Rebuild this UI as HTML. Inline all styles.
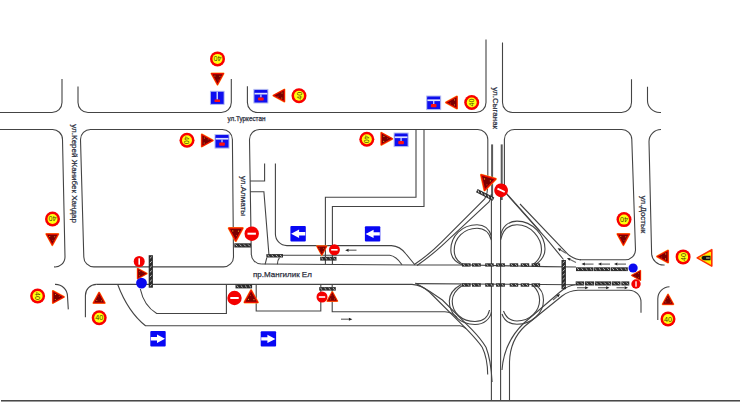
<!DOCTYPE html>
<html><head><meta charset="utf-8">
<style>
html,body{margin:0;padding:0;background:#fff;}
svg{display:block;}
text{font-family:"Liberation Sans",sans-serif;}
</style></head>
<body>
<svg width="740" height="402" viewBox="0 0 740 402">
<defs>
  <pattern id="hp" width="4.3" height="4.3" patternUnits="userSpaceOnUse">
    <rect width="4.3" height="4.3" fill="#333"/>
    <path d="M1.3,1.2 L3.0,2.9" stroke="#f0f0f0" stroke-width="0.75"/>
  </pattern>
  <pattern id="hv" width="4.3" height="4.4" patternUnits="userSpaceOnUse">
    <rect width="4.3" height="4.4" fill="#2a2a2a"/>
    <path d="M1.3,3.0 L3.0,1.4" stroke="#f0f0f0" stroke-width="0.75"/>
  </pattern>
  <g id="s40">
    <circle r="7.5" fill="#f80000"/>
    <circle r="5.0" fill="#ffff10"/>
    <text x="0" y="2.6" font-size="7.2" text-anchor="middle" fill="#4a4200">40</text>
  </g>
  <g id="tri">
    <path d="M-5.2,-6 L5.8,0 L-5.2,6 Z" fill="#7a0000" stroke="#ff9a20" stroke-width="2.0" stroke-linejoin="round"/>
    <path d="M-5.2,-6 L5.8,0 L-5.2,6 Z" fill="#7a0000" stroke="#f41000" stroke-width="1.1" stroke-linejoin="round"/>
    <circle cx="-2.6" cy="-2.4" r="0.55" fill="#e8a020"/>
    <circle cx="-2.8" cy="2.6" r="0.55" fill="#e8a020"/>
    <circle cx="1.2" cy="-0.6" r="0.5" fill="#d04010"/>
  </g>
  <g id="ne">
    <circle r="7.2" fill="#f40000"/>
    <rect x="-4.2" y="-1" width="8.4" height="2" fill="#fff"/>
  </g>
  <g id="ne5">
    <circle r="5.5" fill="#f40000"/>
    <rect x="-3.2" y="-0.8" width="6.4" height="1.6" fill="#fff"/>
  </g>
  <g id="dead">
    <rect x="-7" y="-6.8" width="14" height="13.6" fill="#1010f0" stroke="#b4bcf0" stroke-width="1"/>
    <rect x="-6.3" y="-4.9" width="12.6" height="1.5" fill="#0a0ae8"/>
    <rect x="-6.3" y="-3.4" width="12.6" height="1.7" fill="#dce0ff"/>
    <rect x="-0.7" y="-1.8" width="1.4" height="3" fill="#b8c0ff"/>
    <rect x="-2.8" y="1.2" width="5.6" height="3.2" rx="0.8" fill="#ff1010"/>
  </g>
  <g id="dead2">
    <rect x="-6.85" y="-6.55" width="13.7" height="13.1" fill="#0e0ef0" stroke="#b4bcf0" stroke-width="0.9"/>
    <rect x="-0.75" y="-6.2" width="1.5" height="8" fill="#c8d0ff"/>
    <rect x="-2.75" y="1.6" width="5.5" height="2.6" rx="0.6" fill="#ff1010"/>
  </g>
  <g id="barrow">
    <rect x="-7.7" y="-7.7" width="15.4" height="15.4" rx="1" fill="#0808f4"/>
    <path d="M-7,0 L1,-4.2 L1,-1.7 L7.2,-1.7 L7.2,1.7 L1,1.7 L1,4.2 Z" fill="#fff"/>
  </g>
</defs>

<g fill="none" stroke="#444" stroke-width="1.1">
  <!-- bottom border -->
  <rect x="1" y="400" width="739" height="1" fill="#484848" stroke="none"/><rect x="1" y="401" width="739" height="1" fill="#9a9a9a" stroke="none"/>

  <!-- top road upper line -->
  <path d="M0,112.5 H52 A10,10 0 0 0 62,102.5 V79"/>
  <path d="M78,86.5 V102.5 A10,10 0 0 0 88,112.5 H221.3 A10,10 0 0 0 231.3,102.5 V79"/>
  <path d="M247.4,86.3 V102.5 A10,10 0 0 0 257.4,112.5 H476 A10,10 0 0 0 486,102.5 V39.5"/>
  <path d="M502.5,42.4 V102.5 A10,10 0 0 0 512.5,112.5 H621.5 A10,10 0 0 0 631.5,102.5 V79.3"/>
  <path d="M647.5,86.7 V100.5 A12,12 0 0 0 659.5,112.5 H661"/>

  <!-- top road lower line, Kerei left -->
  <path d="M0,129.5 H52 A10,10 0 0 1 62.5,139.5 L65,257 A10,10 0 0 1 54,266.9"/>
  <!-- block 1 -->
  <path d="M90.5,129.5 H222.4 A10,10 0 0 1 232.4,139.5 L233.5,256.9 A10,10 0 0 1 223.5,266.9 H93.8 A10,10 0 0 1 83.8,256.9 L80.5,139.5 A10,10 0 0 1 90.5,129.5 Z"/>
  <!-- block 2 outline (Almaty right, top, Syganak left) -->
  <path d="M251.3,254 L249.5,139.5 A10,10 0 0 1 259.5,129.5 H477.5 A10,10 0 0 1 487.8,139.5 V186"/>
  <path d="M251.3,254 A10,10 0 0 0 261.3,264"/>
  <!-- Syganak right / Dostyk left top -->
  <path d="M504.4,172 V139.5 A10,10 0 0 1 514.4,129.5 H621.5 A10,10 0 0 1 631.8,139.5 L635.5,250 A10,10 0 0 1 625.5,259.8 H579.8"/>
  <!-- Dostyk right lower -->
  <path d="M661,129.5 A12,12 0 0 0 649,141.5 L651.6,253 A12,12 0 0 0 664.6,265"/>

  <!-- main road upper line -->
  <path d="M261.3,264 L414.7,265 L470,265 L545,266.6 L576,267"/>
  <!-- main road lower line -->
    <path d="M96.3,284.4 H395 M415.4,283.6 L576,284.8"/>

  <!-- Kerei bottom pieces -->
  <path d="M55,284.4 A12,12 0 0 1 67.5,296.4 L68.3,309.4"/>
  <path d="M96.3,284.4 A11,11 0 0 0 85.4,295.4 V317.2"/>

  <!-- left lower ramps -->
  <path d="M117.6,284.3 Q128,312 145.5,325.8 H459.8 Q463,326 466,328.6"/>
  <path d="M140.3,289 Q144,306 156.7,313.5 H226.4 V284.4"/>
  <path d="M256.2,284.4 V311 H320.8 V284.4"/>
  <path d="M332.2,284 V311.8 H444.9 Q452,312 457.3,317.6"/>

  <!-- Almaty inner structure -->
  <path d="M250,181 H264.6 V163.5"/>
  <path d="M250,191.8 H263.9 L268.9,254.2 M266.8,257.6 L265.1,264.3"/>
  <path d="M275.4,163.5 V234 A11.5,11.5 0 0 0 287,245.6 H391.5 Q400,246 406,254 L414.6,264.5"/>
  <path d="M266.7,255.3 H389.7 Q396,256 402,264.7"/>
  <path d="M279.5,257.6 Q277.5,260 277.4,264.2"/>
  <path d="M325.4,264 V197.3 H416 V129.5"/>
  <path d="M332.4,264 V206.5 H424 V129.5"/>

  <!-- Syganak inner lines -->
  <path d="M492.1,144.4 V200" stroke-width="2" stroke="#5a5a5a"/>
  <path d="M501.7,144.4 V200" stroke-width="2" stroke="#5a5a5a"/>
  <path d="M491.4,195 V400"/>
  <path d="M500.6,195 V400"/>

  <!-- top-left ramp -->
  <path d="M487.8,186 Q487.8,193 484.7,199 L441,242.6 Q428,255.5 414,264.7"/>
  <path d="M491.4,194 Q491,199 489,202 L442,245.6 Q430,256.5 417,265.5"/>
  <!-- top-right ramp -->
  <path d="M504.4,172 V186 Q504.6,191 507,194.5 L547.4,239.9 L563.5,259.5"/>
  <path d="M506.6,193.5 L540,231"/>
  <path d="M520,204 L567.3,253.6 Q572,258.5 579.8,259.8 H581"/>

  <!-- top-left loop -->
  <path d="M491.4,236 C489,228 484,224.8 477,224.8 C462,224.8 450.8,236 450.8,250 C450.8,257 455,262 462.4,265"/>
  <path d="M491.4,240 C489,232 484,228.3 477,228.3 C464,228.3 454.2,238 454.2,250.5 C454.2,257 457.5,262 464.5,265"/>
  <!-- top-right loop -->
  <path d="M500.6,236 C502,227 508,221.1 517,221.1 C533,221.1 545,236 545,249 C545,256 541,261 535,265"/>
  <path d="M500.6,240 C502.5,231 508,224.8 517,224.8 C531,224.8 541.5,238 541.5,249.5 C541.5,256 538,261 532.5,265"/>
  <!-- bottom-left loop -->
  <path d="M461.2,284.5 C453,289 449.3,294 449.3,301 C449.3,314 460,324.5 475,324.5 C484,324.5 490,319 491.5,312"/>
  <path d="M463,285 C456,289.5 452.2,295 452.2,301 C452.2,313 462,321.5 475,321.5 C483,321.5 488,317 489.5,310"/>
  <!-- bottom-right loop -->
  <path d="M502,314 C504,320 509,324.2 517,324.2 C532,324.2 543.5,313 543.5,300 C543.5,293 540,288 535.7,285.4"/>
  <path d="M503.5,311 C506,317.5 511,321 517,321 C530,321 539.6,311 539.6,300 C539.6,294 537,289.5 533,285.4"/>

  <!-- bottom-left ramp pair -->
  <path d="M395,284.4 H412 Q422,285 429.4,292 L467.3,329.9 Q478,341 482.2,347.3 Q487.5,358 487.7,374.6"/>
  <path d="M415.4,283 Q430,291 442.4,300 L472.2,329.9 Q481,339 486,347.3 Q491,360 492.1,382"/>
  <!-- bottom-right ramp -->
  <path d="M641,312.8 V302.2 A12,12 0 0 0 629,290.2 H578 Q569,290.5 562,296 L525,326 Q510,340 509.5,362 V400"/>
  <path d="M575,284.8 Q568,285.5 560,292 L524,323 Q504,342 502,370"/>
  <!-- right lower piece -->
  <path d="M669.5,286.8 A12,12 0 0 0 657.8,298.8 V320"/>
</g>

<!-- hatch bars -->
<g>
<rect x="234.3" y="243.3" width="16.8" height="4.2" fill="#2e2e2e"/>
<path d="M235.50,244.48L237.30,246.32M239.70,244.48L241.50,246.32M243.90,244.48L245.70,246.32M248.10,244.48L249.90,246.32" stroke="#eeeeee" stroke-width="0.8" fill="none"/>
<rect x="266.4" y="254.1" width="16.6" height="3.4" fill="#2e2e2e"/>
<path d="M267.57,255.05L269.37,256.55M271.73,255.05L273.52,256.55M275.88,255.05L277.67,256.55M280.02,255.05L281.82,256.55" stroke="#eeeeee" stroke-width="0.8" fill="none"/>
<rect x="320.2" y="256.8" width="16.3" height="3.8" fill="#2e2e2e"/>
<path d="M321.34,257.86L323.14,259.54M325.41,257.86L327.21,259.54M329.49,257.86L331.29,259.54M333.56,257.86L335.36,259.54" stroke="#eeeeee" stroke-width="0.8" fill="none"/>
<rect x="235.5" y="284.4" width="16.6" height="4" fill="#2e2e2e"/>
<path d="M236.67,285.52L238.47,287.28M240.82,285.52L242.62,287.28M244.97,285.52L246.78,287.28M249.12,285.52L250.93,287.28" stroke="#eeeeee" stroke-width="0.8" fill="none"/>
<rect x="319.2" y="287.1" width="16.6" height="3.5" fill="#2e2e2e"/>
<path d="M320.38,288.08L322.17,289.62M324.53,288.08L326.32,289.62M328.68,288.08L330.47,289.62M332.82,288.08L334.62,289.62" stroke="#eeeeee" stroke-width="0.8" fill="none"/>
<rect x="462" y="263.3" width="8.6" height="3.3" fill="#2e2e2e"/>
<path d="M463.25,264.22L465.05,265.68M467.55,264.22L469.35,265.68" stroke="#eeeeee" stroke-width="0.8" fill="none"/>
<rect x="472" y="263.3" width="8.8" height="3.3" fill="#2e2e2e"/>
<path d="M473.30,264.22L475.10,265.68M477.70,264.22L479.50,265.68" stroke="#eeeeee" stroke-width="0.8" fill="none"/>
<rect x="485.2" y="263.3" width="8.5" height="3.3" fill="#2e2e2e"/>
<path d="M486.43,264.22L488.22,265.68M490.68,264.22L492.47,265.68" stroke="#eeeeee" stroke-width="0.8" fill="none"/>
<rect x="496.1" y="263.3" width="8.8" height="3.3" fill="#2e2e2e"/>
<path d="M497.40,264.22L499.20,265.68M501.80,264.22L503.60,265.68" stroke="#eeeeee" stroke-width="0.8" fill="none"/>
<rect x="509.7" y="263.3" width="8.5" height="3.3" fill="#2e2e2e"/>
<path d="M510.93,264.22L512.73,265.68M515.18,264.22L516.98,265.68" stroke="#eeeeee" stroke-width="0.8" fill="none"/>
<rect x="520.7" y="263.3" width="8.5" height="3.3" fill="#2e2e2e"/>
<path d="M521.93,264.22L523.73,265.68M526.18,264.22L527.98,265.68" stroke="#eeeeee" stroke-width="0.8" fill="none"/>
<rect x="531.6" y="263.3" width="8.5" height="3.3" fill="#2e2e2e"/>
<path d="M532.83,264.22L534.62,265.68M537.08,264.22L538.88,265.68" stroke="#eeeeee" stroke-width="0.8" fill="none"/>
<rect x="462" y="283.3" width="8.6" height="3.4" fill="#2e2e2e"/>
<path d="M463.25,284.25L465.05,285.75M467.55,284.25L469.35,285.75" stroke="#eeeeee" stroke-width="0.8" fill="none"/>
<rect x="472" y="283.3" width="8.8" height="3.4" fill="#2e2e2e"/>
<path d="M473.30,284.25L475.10,285.75M477.70,284.25L479.50,285.75" stroke="#eeeeee" stroke-width="0.8" fill="none"/>
<rect x="485.2" y="283.3" width="8.5" height="3.4" fill="#2e2e2e"/>
<path d="M486.43,284.25L488.22,285.75M490.68,284.25L492.47,285.75" stroke="#eeeeee" stroke-width="0.8" fill="none"/>
<rect x="496.1" y="283.3" width="8.8" height="3.4" fill="#2e2e2e"/>
<path d="M497.40,284.25L499.20,285.75M501.80,284.25L503.60,285.75" stroke="#eeeeee" stroke-width="0.8" fill="none"/>
<rect x="509.7" y="283.3" width="8.5" height="3.4" fill="#2e2e2e"/>
<path d="M510.93,284.25L512.73,285.75M515.18,284.25L516.98,285.75" stroke="#eeeeee" stroke-width="0.8" fill="none"/>
<rect x="520.7" y="283.3" width="8.5" height="3.4" fill="#2e2e2e"/>
<path d="M521.93,284.25L523.73,285.75M526.18,284.25L527.98,285.75" stroke="#eeeeee" stroke-width="0.8" fill="none"/>
<rect x="531.6" y="283.3" width="8.5" height="3.4" fill="#2e2e2e"/>
<path d="M532.83,284.25L534.62,285.75M537.08,284.25L538.88,285.75" stroke="#eeeeee" stroke-width="0.8" fill="none"/>
<rect x="576" y="267.3" width="17" height="3.8" fill="#2e2e2e"/>
<path d="M577.23,268.36L579.02,270.04M581.48,268.36L583.27,270.04M585.73,268.36L587.52,270.04M589.98,268.36L591.77,270.04" stroke="#eeeeee" stroke-width="0.8" fill="none"/>
<rect x="593.5" y="267.3" width="16.9" height="3.8" fill="#2e2e2e"/>
<path d="M594.71,268.36L596.51,270.04M598.94,268.36L600.74,270.04M603.16,268.36L604.96,270.04M607.39,268.36L609.19,270.04" stroke="#eeeeee" stroke-width="0.8" fill="none"/>
<rect x="611" y="267.3" width="16.8" height="3.8" fill="#2e2e2e"/>
<path d="M612.20,268.36L614.00,270.04M616.40,268.36L618.20,270.04M620.60,268.36L622.40,270.04M624.80,268.36L626.60,270.04" stroke="#eeeeee" stroke-width="0.8" fill="none"/>
<rect x="575.7" y="281.4" width="8.5" height="4.1" fill="#2e2e2e"/>
<path d="M576.93,282.55L578.73,284.35M581.18,282.55L582.98,284.35" stroke="#eeeeee" stroke-width="0.8" fill="none"/>
<rect x="585" y="281.4" width="9" height="4.1" fill="#2e2e2e"/>
<path d="M586.35,282.55L588.15,284.35M590.85,282.55L592.65,284.35" stroke="#eeeeee" stroke-width="0.8" fill="none"/>
<rect x="594.8" y="281.4" width="16.5" height="4.1" fill="#2e2e2e"/>
<path d="M595.96,282.55L597.76,284.35M600.09,282.55L601.89,284.35M604.21,282.55L606.01,284.35M608.34,282.55L610.14,284.35" stroke="#eeeeee" stroke-width="0.8" fill="none"/>
<rect x="612" y="281.4" width="8.5" height="4.1" fill="#2e2e2e"/>
<path d="M613.23,282.55L615.02,284.35M617.48,282.55L619.27,284.35" stroke="#eeeeee" stroke-width="0.8" fill="none"/>
<rect x="621.3" y="281.4" width="8" height="4.1" fill="#2e2e2e"/>
<path d="M622.40,282.55L624.20,284.35M626.40,282.55L628.20,284.35" stroke="#eeeeee" stroke-width="0.8" fill="none"/>
<rect x="148.7" y="255.2" width="4.2" height="32.5" fill="#2a2a2a"/>
<path d="M149.88,258.42L151.72,256.62M149.88,263.06L151.72,261.26M149.88,267.71L151.72,265.91M149.88,272.35L151.72,270.55M149.88,276.99L151.72,275.19M149.88,281.64L151.72,279.84M149.88,286.28L151.72,284.48" stroke="#eeeeee" stroke-width="0.8" fill="none"/>
<rect x="561.5" y="260" width="4.4" height="29.2" fill="#2a2a2a"/>
<path d="M562.73,262.99L564.67,261.19M562.73,267.16L564.67,265.36M562.73,271.33L564.67,269.53M562.73,275.50L564.67,273.70M562.73,279.67L564.67,277.87M562.73,283.84L564.67,282.04M562.73,288.01L564.67,286.21" stroke="#eeeeee" stroke-width="0.8" fill="none"/>
<g transform="rotate(27 485.15 194.9)">
<rect x="475.8" y="193.1" width="18.7" height="3.6" fill="#2e2e2e"/>
<path d="M476.77,194.11L478.57,195.69M480.51,194.11L482.31,195.69M484.25,194.11L486.05,195.69M487.99,194.11L489.79,195.69M491.73,194.11L493.53,195.69" stroke="#eeeeee" stroke-width="0.8" fill="none"/>
</g>
</g>

<!-- small arrows -->
<g>
<path d="M348.60,250.20 L356.50,250.20" stroke="#6a6a6a" stroke-width="1.2" fill="none"/><path d="M345.20,250.20 L348.60,251.70 L348.60,248.70 Z" fill="#1e1e1e"/>
<path d="M348.90,319.20 L341.00,319.20" stroke="#6a6a6a" stroke-width="1.2" fill="none"/><path d="M352.30,319.20 L348.90,317.70 L348.90,320.70 Z" fill="#1e1e1e"/>
<path d="M584.90,264.10 L593.50,264.10" stroke="#6a6a6a" stroke-width="1.2" fill="none"/><path d="M581.50,264.10 L584.90,265.60 L584.90,262.60 Z" fill="#1e1e1e"/>
<path d="M601.40,264.10 L610.00,264.10" stroke="#6a6a6a" stroke-width="1.2" fill="none"/><path d="M598.00,264.10 L601.40,265.60 L601.40,262.60 Z" fill="#1e1e1e"/>
<path d="M617.40,264.10 L626.00,264.10" stroke="#6a6a6a" stroke-width="1.2" fill="none"/><path d="M614.00,264.10 L617.40,265.60 L617.40,262.60 Z" fill="#1e1e1e"/>
<path d="M585.10,287.70 L577.00,287.70" stroke="#6a6a6a" stroke-width="1.2" fill="none"/><path d="M588.50,287.70 L585.10,286.20 L585.10,289.20 Z" fill="#1e1e1e"/>
<path d="M606.10,287.70 L598.00,287.70" stroke="#6a6a6a" stroke-width="1.2" fill="none"/><path d="M609.50,287.70 L606.10,286.20 L606.10,289.20 Z" fill="#1e1e1e"/>
<path d="M624.60,287.70 L616.50,287.70" stroke="#6a6a6a" stroke-width="1.2" fill="none"/><path d="M628.00,287.70 L624.60,286.20 L624.60,289.20 Z" fill="#1e1e1e"/>
<path d="M560.52,250.04 L566.00,253.30" stroke="#6a6a6a" stroke-width="1.2" fill="none"/><path d="M557.60,248.30 L559.75,251.33 L561.29,248.75 Z" fill="#1e1e1e"/>
<path d="M570.04,259.52 L576.00,262.50" stroke="#6a6a6a" stroke-width="1.2" fill="none"/><path d="M567.00,258.00 L569.37,260.86 L570.71,258.18 Z" fill="#1e1e1e"/>
<path d="M557.42,296.21 L553.00,300.00" stroke="#6a6a6a" stroke-width="1.2" fill="none"/><path d="M560.00,294.00 L556.44,295.07 L558.39,297.35 Z" fill="#1e1e1e"/>
</g>

<!-- text -->
<g fill="#2c3040" stroke="#2c3040" stroke-width="0.25" font-size="8">
  <text x="227.6" y="121.4" font-size="6.3">ул.Туркестан</text>
  <text x="253" y="276.8" font-size="8">пр.Мангилик Ел</text>
  <text transform="translate(72,124.3) rotate(90)" font-size="8">ул.Керей Жанибек Хандар</text>
  <text transform="translate(240.8,176) rotate(90)" font-size="8">ул.Алматы</text>
  <text transform="translate(492.7,87.3) rotate(90)" font-size="8">ул.Сыганак</text>
  <text transform="translate(640.5,195.7) rotate(90)" font-size="8">ул.Достык</text>
</g>

<!-- signs -->
<use href="#s40" transform="translate(217.5,58.9) rotate(180)"/>
<use href="#tri" transform="translate(217.5,78.8) rotate(90)"/>
<use href="#dead2" transform="translate(217.25,97.8)"/>

<use href="#dead" transform="translate(260.9,96.2)"/>
<use href="#tri" transform="translate(279.2,95.6) rotate(180)"/>
<use href="#s40" transform="translate(299,95.8) rotate(-90)"/>

<use href="#dead" transform="translate(433.7,102.8)"/>
<use href="#tri" transform="translate(451.8,102.5) rotate(180)"/>
<use href="#s40" transform="translate(471.7,102.5) rotate(-90)"/>

<use href="#s40" transform="translate(187,140.3) rotate(90)"/>
<use href="#tri" transform="translate(207,140.4)"/>
<use href="#dead" transform="translate(222,141.3)"/>

<use href="#s40" transform="translate(366.8,139.2) rotate(90)"/>
<use href="#tri" transform="translate(386.5,138.8)"/>
<use href="#dead" transform="translate(401.1,139.8)"/>

<use href="#s40" transform="translate(52.5,219) rotate(180)"/>
<use href="#tri" transform="translate(52.3,239.3) rotate(90)"/>

<use href="#tri" transform="translate(235.75,234.2) rotate(90) scale(1.15)"/>
<use href="#ne" transform="translate(251.7,233.7)"/>

<use href="#barrow" transform="translate(298.1,233.7)"/>
<use href="#barrow" transform="translate(372.6,233.9)"/>
<use href="#barrow" transform="translate(158,338.7) rotate(180)"/>
<use href="#barrow" transform="translate(268.4,338.9) rotate(180)"/>

<use href="#tri" transform="translate(321.8,250.4) rotate(90) scale(0.82)"/>
<use href="#ne5" transform="translate(334.4,249.8)"/>

<use href="#ne5" transform="translate(139.2,261.5) rotate(90)"/>
<use href="#tri" transform="translate(142,273.6) scale(0.85)"/>
<circle cx="141.5" cy="283.1" r="5.4" fill="#0a0af0"/>

<use href="#s40" transform="translate(37.6,296) rotate(90)"/>
<use href="#tri" transform="translate(58.1,296.9)"/>
<use href="#tri" transform="translate(99.1,298) rotate(-90) scale(0.95)"/>
<use href="#s40" transform="translate(99.2,317.7)"/>

<use href="#ne" transform="translate(234.5,298)"/>
<use href="#tri" transform="translate(251.1,296.6) rotate(-90) scale(1.1)"/>
<use href="#ne5" transform="translate(322,297)"/>
<use href="#tri" transform="translate(332.3,296.7) rotate(-90) scale(0.85)"/>

<use href="#tri" transform="translate(486.6,183.2) rotate(106) scale(1.25)"/>
<use href="#ne" transform="translate(501.1,190.3) rotate(25) scale(0.95)"/>

<use href="#s40" transform="translate(624,219.6) rotate(180)"/>
<use href="#tri" transform="translate(623.4,239.3) rotate(90)"/>
<use href="#tri" transform="translate(662.9,256.5) rotate(180)"/>
<use href="#s40" transform="translate(683.1,256.9) rotate(-90)"/>
<g transform="translate(704.6,257.9)">
  <path d="M7.2,-8.2 L7.2,8.2 L-7.4,0 Z" fill="#ffee00" stroke="#ff3000" stroke-width="1.6" stroke-linejoin="round"/>
  <path d="M-3,-0.6 Q-2.5,-2.2 0,-2.1 L5.9,-2.1 L5.9,2.3 L0,2.3 Q-2.5,2.2 -3,0.6 Z" fill="#111"/><rect x="1.5" y="-0.4" width="3.6" height="1" fill="#e8e8b0"/>
</g>
<circle cx="633.1" cy="268" r="4.6" fill="#0a0af0"/>
<use href="#tri" transform="translate(636.3,275.4) rotate(180) scale(0.8)"/>
<use href="#ne5" transform="translate(636,284) rotate(90) scale(0.85)"/>
<use href="#tri" transform="translate(668,299.6) rotate(-90) scale(0.9)"/>
<use href="#s40" transform="translate(668,319)"/>
</svg>
</body></html>
